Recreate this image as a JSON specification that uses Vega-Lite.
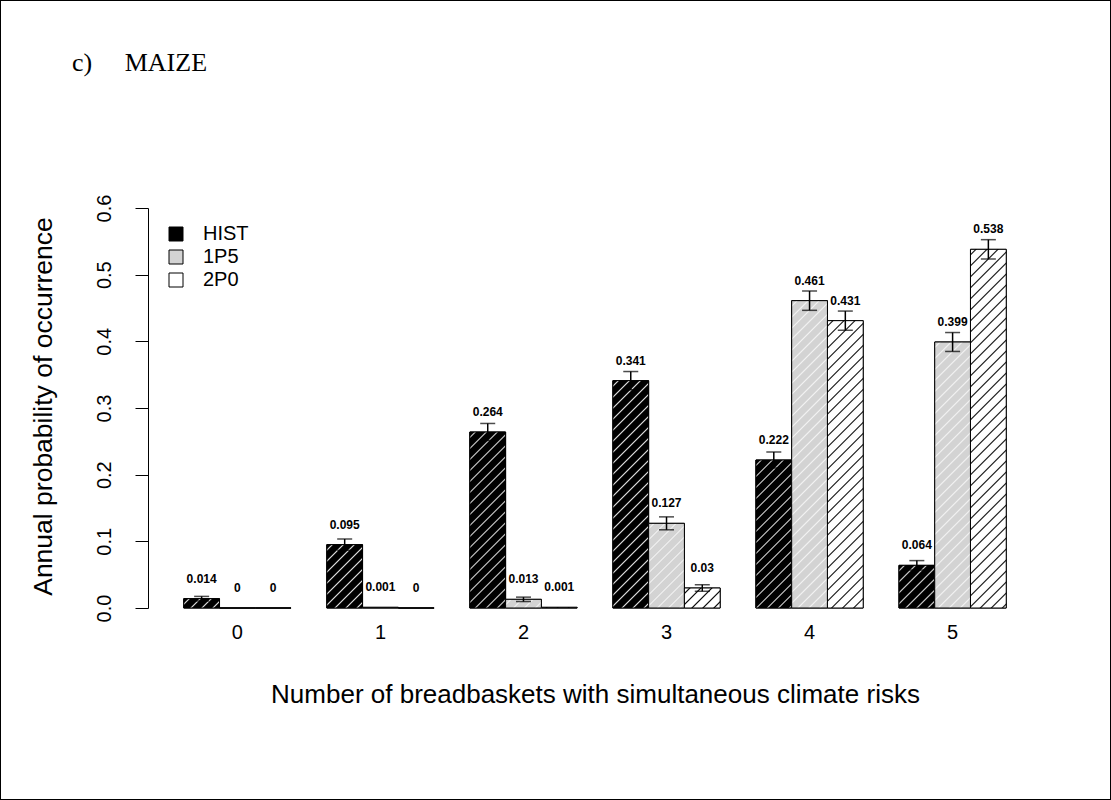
{
  "$schema": "https://vega.github.io/schema/vega-lite/v6.json",
  "width": 1111,
  "height": 800,
  "autosize": {"type": "none"},
  "padding": 0,
  "background": "white",
  "title": {
    "text": "c)\u00a0\u00a0\u00a0\u00a0\u00a0MAIZE",
    "font": "Liberation Serif",
    "fontSize": 26,
    "fontWeight": "normal",
    "color": "black",
    "anchor": "start",
    "frame": "group",
    "orient": "top",
    "baseline": "alphabetic",
    "offset": -97,
    "dx": 72
  },
  "params": [
    {
      "name": "hatchHist",
      "value": [
        {"offset":0.0091,"color":"#000"},{"offset":0.0125,"color":"#ddd"},{"offset":0.0159,"color":"#000"},
        {"offset":0.0341,"color":"#000"},{"offset":0.0375,"color":"#ddd"},{"offset":0.0409,"color":"#000"},
        {"offset":0.0591,"color":"#000"},{"offset":0.0625,"color":"#ddd"},{"offset":0.0659,"color":"#000"},
        {"offset":0.0841,"color":"#000"},{"offset":0.0875,"color":"#ddd"},{"offset":0.0909,"color":"#000"},
        {"offset":0.1091,"color":"#000"},{"offset":0.1125,"color":"#ddd"},{"offset":0.1159,"color":"#000"},
        {"offset":0.1341,"color":"#000"},{"offset":0.1375,"color":"#ddd"},{"offset":0.1409,"color":"#000"},
        {"offset":0.1591,"color":"#000"},{"offset":0.1625,"color":"#ddd"},{"offset":0.1659,"color":"#000"},
        {"offset":0.1841,"color":"#000"},{"offset":0.1875,"color":"#ddd"},{"offset":0.1909,"color":"#000"},
        {"offset":0.2091,"color":"#000"},{"offset":0.2125,"color":"#ddd"},{"offset":0.2159,"color":"#000"},
        {"offset":0.2341,"color":"#000"},{"offset":0.2375,"color":"#ddd"},{"offset":0.2409,"color":"#000"},
        {"offset":0.2591,"color":"#000"},{"offset":0.2625,"color":"#ddd"},{"offset":0.2659,"color":"#000"},
        {"offset":0.2841,"color":"#000"},{"offset":0.2875,"color":"#ddd"},{"offset":0.2909,"color":"#000"},
        {"offset":0.3091,"color":"#000"},{"offset":0.3125,"color":"#ddd"},{"offset":0.3159,"color":"#000"},
        {"offset":0.3341,"color":"#000"},{"offset":0.3375,"color":"#ddd"},{"offset":0.3409,"color":"#000"},
        {"offset":0.3591,"color":"#000"},{"offset":0.3625,"color":"#ddd"},{"offset":0.3659,"color":"#000"},
        {"offset":0.3841,"color":"#000"},{"offset":0.3875,"color":"#ddd"},{"offset":0.3909,"color":"#000"},
        {"offset":0.4091,"color":"#000"},{"offset":0.4125,"color":"#ddd"},{"offset":0.4159,"color":"#000"},
        {"offset":0.4341,"color":"#000"},{"offset":0.4375,"color":"#ddd"},{"offset":0.4409,"color":"#000"},
        {"offset":0.4591,"color":"#000"},{"offset":0.4625,"color":"#ddd"},{"offset":0.4659,"color":"#000"},
        {"offset":0.4841,"color":"#000"},{"offset":0.4875,"color":"#ddd"},{"offset":0.4909,"color":"#000"},
        {"offset":0.5091,"color":"#000"},{"offset":0.5125,"color":"#ddd"},{"offset":0.5159,"color":"#000"},
        {"offset":0.5341,"color":"#000"},{"offset":0.5375,"color":"#ddd"},{"offset":0.5409,"color":"#000"},
        {"offset":0.5591,"color":"#000"},{"offset":0.5625,"color":"#ddd"},{"offset":0.5659,"color":"#000"},
        {"offset":0.5841,"color":"#000"},{"offset":0.5875,"color":"#ddd"},{"offset":0.5909,"color":"#000"},
        {"offset":0.6091,"color":"#000"},{"offset":0.6125,"color":"#ddd"},{"offset":0.6159,"color":"#000"},
        {"offset":0.6341,"color":"#000"},{"offset":0.6375,"color":"#ddd"},{"offset":0.6409,"color":"#000"},
        {"offset":0.6591,"color":"#000"},{"offset":0.6625,"color":"#ddd"},{"offset":0.6659,"color":"#000"},
        {"offset":0.6841,"color":"#000"},{"offset":0.6875,"color":"#ddd"},{"offset":0.6909,"color":"#000"},
        {"offset":0.7091,"color":"#000"},{"offset":0.7125,"color":"#ddd"},{"offset":0.7159,"color":"#000"},
        {"offset":0.7341,"color":"#000"},{"offset":0.7375,"color":"#ddd"},{"offset":0.7409,"color":"#000"},
        {"offset":0.7591,"color":"#000"},{"offset":0.7625,"color":"#ddd"},{"offset":0.7659,"color":"#000"},
        {"offset":0.7841,"color":"#000"},{"offset":0.7875,"color":"#ddd"},{"offset":0.7909,"color":"#000"},
        {"offset":0.8091,"color":"#000"},{"offset":0.8125,"color":"#ddd"},{"offset":0.8159,"color":"#000"},
        {"offset":0.8341,"color":"#000"},{"offset":0.8375,"color":"#ddd"},{"offset":0.8409,"color":"#000"},
        {"offset":0.8591,"color":"#000"},{"offset":0.8625,"color":"#ddd"},{"offset":0.8659,"color":"#000"},
        {"offset":0.8841,"color":"#000"},{"offset":0.8875,"color":"#ddd"},{"offset":0.8909,"color":"#000"},
        {"offset":0.9091,"color":"#000"},{"offset":0.9125,"color":"#ddd"},{"offset":0.9159,"color":"#000"},
        {"offset":0.9341,"color":"#000"},{"offset":0.9375,"color":"#ddd"},{"offset":0.9409,"color":"#000"},
        {"offset":0.9591,"color":"#000"},{"offset":0.9625,"color":"#ddd"},{"offset":0.9659,"color":"#000"},
        {"offset":0.9841,"color":"#000"},{"offset":0.9875,"color":"#ddd"},{"offset":0.9909,"color":"#000"}
      ]
    },
    {
      "name": "hatch1p5",
      "value": [
        {"offset":0.0091,"color":"#d3d3d3"},{"offset":0.0125,"color":"#f4f4f4"},{"offset":0.0159,"color":"#d3d3d3"},
        {"offset":0.0341,"color":"#d3d3d3"},{"offset":0.0375,"color":"#f4f4f4"},{"offset":0.0409,"color":"#d3d3d3"},
        {"offset":0.0591,"color":"#d3d3d3"},{"offset":0.0625,"color":"#f4f4f4"},{"offset":0.0659,"color":"#d3d3d3"},
        {"offset":0.0841,"color":"#d3d3d3"},{"offset":0.0875,"color":"#f4f4f4"},{"offset":0.0909,"color":"#d3d3d3"},
        {"offset":0.1091,"color":"#d3d3d3"},{"offset":0.1125,"color":"#f4f4f4"},{"offset":0.1159,"color":"#d3d3d3"},
        {"offset":0.1341,"color":"#d3d3d3"},{"offset":0.1375,"color":"#f4f4f4"},{"offset":0.1409,"color":"#d3d3d3"},
        {"offset":0.1591,"color":"#d3d3d3"},{"offset":0.1625,"color":"#f4f4f4"},{"offset":0.1659,"color":"#d3d3d3"},
        {"offset":0.1841,"color":"#d3d3d3"},{"offset":0.1875,"color":"#f4f4f4"},{"offset":0.1909,"color":"#d3d3d3"},
        {"offset":0.2091,"color":"#d3d3d3"},{"offset":0.2125,"color":"#f4f4f4"},{"offset":0.2159,"color":"#d3d3d3"},
        {"offset":0.2341,"color":"#d3d3d3"},{"offset":0.2375,"color":"#f4f4f4"},{"offset":0.2409,"color":"#d3d3d3"},
        {"offset":0.2591,"color":"#d3d3d3"},{"offset":0.2625,"color":"#f4f4f4"},{"offset":0.2659,"color":"#d3d3d3"},
        {"offset":0.2841,"color":"#d3d3d3"},{"offset":0.2875,"color":"#f4f4f4"},{"offset":0.2909,"color":"#d3d3d3"},
        {"offset":0.3091,"color":"#d3d3d3"},{"offset":0.3125,"color":"#f4f4f4"},{"offset":0.3159,"color":"#d3d3d3"},
        {"offset":0.3341,"color":"#d3d3d3"},{"offset":0.3375,"color":"#f4f4f4"},{"offset":0.3409,"color":"#d3d3d3"},
        {"offset":0.3591,"color":"#d3d3d3"},{"offset":0.3625,"color":"#f4f4f4"},{"offset":0.3659,"color":"#d3d3d3"},
        {"offset":0.3841,"color":"#d3d3d3"},{"offset":0.3875,"color":"#f4f4f4"},{"offset":0.3909,"color":"#d3d3d3"},
        {"offset":0.4091,"color":"#d3d3d3"},{"offset":0.4125,"color":"#f4f4f4"},{"offset":0.4159,"color":"#d3d3d3"},
        {"offset":0.4341,"color":"#d3d3d3"},{"offset":0.4375,"color":"#f4f4f4"},{"offset":0.4409,"color":"#d3d3d3"},
        {"offset":0.4591,"color":"#d3d3d3"},{"offset":0.4625,"color":"#f4f4f4"},{"offset":0.4659,"color":"#d3d3d3"},
        {"offset":0.4841,"color":"#d3d3d3"},{"offset":0.4875,"color":"#f4f4f4"},{"offset":0.4909,"color":"#d3d3d3"},
        {"offset":0.5091,"color":"#d3d3d3"},{"offset":0.5125,"color":"#f4f4f4"},{"offset":0.5159,"color":"#d3d3d3"},
        {"offset":0.5341,"color":"#d3d3d3"},{"offset":0.5375,"color":"#f4f4f4"},{"offset":0.5409,"color":"#d3d3d3"},
        {"offset":0.5591,"color":"#d3d3d3"},{"offset":0.5625,"color":"#f4f4f4"},{"offset":0.5659,"color":"#d3d3d3"},
        {"offset":0.5841,"color":"#d3d3d3"},{"offset":0.5875,"color":"#f4f4f4"},{"offset":0.5909,"color":"#d3d3d3"},
        {"offset":0.6091,"color":"#d3d3d3"},{"offset":0.6125,"color":"#f4f4f4"},{"offset":0.6159,"color":"#d3d3d3"},
        {"offset":0.6341,"color":"#d3d3d3"},{"offset":0.6375,"color":"#f4f4f4"},{"offset":0.6409,"color":"#d3d3d3"},
        {"offset":0.6591,"color":"#d3d3d3"},{"offset":0.6625,"color":"#f4f4f4"},{"offset":0.6659,"color":"#d3d3d3"},
        {"offset":0.6841,"color":"#d3d3d3"},{"offset":0.6875,"color":"#f4f4f4"},{"offset":0.6909,"color":"#d3d3d3"},
        {"offset":0.7091,"color":"#d3d3d3"},{"offset":0.7125,"color":"#f4f4f4"},{"offset":0.7159,"color":"#d3d3d3"},
        {"offset":0.7341,"color":"#d3d3d3"},{"offset":0.7375,"color":"#f4f4f4"},{"offset":0.7409,"color":"#d3d3d3"},
        {"offset":0.7591,"color":"#d3d3d3"},{"offset":0.7625,"color":"#f4f4f4"},{"offset":0.7659,"color":"#d3d3d3"},
        {"offset":0.7841,"color":"#d3d3d3"},{"offset":0.7875,"color":"#f4f4f4"},{"offset":0.7909,"color":"#d3d3d3"},
        {"offset":0.8091,"color":"#d3d3d3"},{"offset":0.8125,"color":"#f4f4f4"},{"offset":0.8159,"color":"#d3d3d3"},
        {"offset":0.8341,"color":"#d3d3d3"},{"offset":0.8375,"color":"#f4f4f4"},{"offset":0.8409,"color":"#d3d3d3"},
        {"offset":0.8591,"color":"#d3d3d3"},{"offset":0.8625,"color":"#f4f4f4"},{"offset":0.8659,"color":"#d3d3d3"},
        {"offset":0.8841,"color":"#d3d3d3"},{"offset":0.8875,"color":"#f4f4f4"},{"offset":0.8909,"color":"#d3d3d3"},
        {"offset":0.9091,"color":"#d3d3d3"},{"offset":0.9125,"color":"#f4f4f4"},{"offset":0.9159,"color":"#d3d3d3"},
        {"offset":0.9341,"color":"#d3d3d3"},{"offset":0.9375,"color":"#f4f4f4"},{"offset":0.9409,"color":"#d3d3d3"},
        {"offset":0.9591,"color":"#d3d3d3"},{"offset":0.9625,"color":"#f4f4f4"},{"offset":0.9659,"color":"#d3d3d3"},
        {"offset":0.9841,"color":"#d3d3d3"},{"offset":0.9875,"color":"#f4f4f4"},{"offset":0.9909,"color":"#d3d3d3"}
      ]
    },
    {
      "name": "hatch2p0",
      "value": [
        {"offset":0.0091,"color":"#fff"},{"offset":0.0125,"color":"#000"},{"offset":0.0159,"color":"#fff"},
        {"offset":0.0341,"color":"#fff"},{"offset":0.0375,"color":"#000"},{"offset":0.0409,"color":"#fff"},
        {"offset":0.0591,"color":"#fff"},{"offset":0.0625,"color":"#000"},{"offset":0.0659,"color":"#fff"},
        {"offset":0.0841,"color":"#fff"},{"offset":0.0875,"color":"#000"},{"offset":0.0909,"color":"#fff"},
        {"offset":0.1091,"color":"#fff"},{"offset":0.1125,"color":"#000"},{"offset":0.1159,"color":"#fff"},
        {"offset":0.1341,"color":"#fff"},{"offset":0.1375,"color":"#000"},{"offset":0.1409,"color":"#fff"},
        {"offset":0.1591,"color":"#fff"},{"offset":0.1625,"color":"#000"},{"offset":0.1659,"color":"#fff"},
        {"offset":0.1841,"color":"#fff"},{"offset":0.1875,"color":"#000"},{"offset":0.1909,"color":"#fff"},
        {"offset":0.2091,"color":"#fff"},{"offset":0.2125,"color":"#000"},{"offset":0.2159,"color":"#fff"},
        {"offset":0.2341,"color":"#fff"},{"offset":0.2375,"color":"#000"},{"offset":0.2409,"color":"#fff"},
        {"offset":0.2591,"color":"#fff"},{"offset":0.2625,"color":"#000"},{"offset":0.2659,"color":"#fff"},
        {"offset":0.2841,"color":"#fff"},{"offset":0.2875,"color":"#000"},{"offset":0.2909,"color":"#fff"},
        {"offset":0.3091,"color":"#fff"},{"offset":0.3125,"color":"#000"},{"offset":0.3159,"color":"#fff"},
        {"offset":0.3341,"color":"#fff"},{"offset":0.3375,"color":"#000"},{"offset":0.3409,"color":"#fff"},
        {"offset":0.3591,"color":"#fff"},{"offset":0.3625,"color":"#000"},{"offset":0.3659,"color":"#fff"},
        {"offset":0.3841,"color":"#fff"},{"offset":0.3875,"color":"#000"},{"offset":0.3909,"color":"#fff"},
        {"offset":0.4091,"color":"#fff"},{"offset":0.4125,"color":"#000"},{"offset":0.4159,"color":"#fff"},
        {"offset":0.4341,"color":"#fff"},{"offset":0.4375,"color":"#000"},{"offset":0.4409,"color":"#fff"},
        {"offset":0.4591,"color":"#fff"},{"offset":0.4625,"color":"#000"},{"offset":0.4659,"color":"#fff"},
        {"offset":0.4841,"color":"#fff"},{"offset":0.4875,"color":"#000"},{"offset":0.4909,"color":"#fff"},
        {"offset":0.5091,"color":"#fff"},{"offset":0.5125,"color":"#000"},{"offset":0.5159,"color":"#fff"},
        {"offset":0.5341,"color":"#fff"},{"offset":0.5375,"color":"#000"},{"offset":0.5409,"color":"#fff"},
        {"offset":0.5591,"color":"#fff"},{"offset":0.5625,"color":"#000"},{"offset":0.5659,"color":"#fff"},
        {"offset":0.5841,"color":"#fff"},{"offset":0.5875,"color":"#000"},{"offset":0.5909,"color":"#fff"},
        {"offset":0.6091,"color":"#fff"},{"offset":0.6125,"color":"#000"},{"offset":0.6159,"color":"#fff"},
        {"offset":0.6341,"color":"#fff"},{"offset":0.6375,"color":"#000"},{"offset":0.6409,"color":"#fff"},
        {"offset":0.6591,"color":"#fff"},{"offset":0.6625,"color":"#000"},{"offset":0.6659,"color":"#fff"},
        {"offset":0.6841,"color":"#fff"},{"offset":0.6875,"color":"#000"},{"offset":0.6909,"color":"#fff"},
        {"offset":0.7091,"color":"#fff"},{"offset":0.7125,"color":"#000"},{"offset":0.7159,"color":"#fff"},
        {"offset":0.7341,"color":"#fff"},{"offset":0.7375,"color":"#000"},{"offset":0.7409,"color":"#fff"},
        {"offset":0.7591,"color":"#fff"},{"offset":0.7625,"color":"#000"},{"offset":0.7659,"color":"#fff"},
        {"offset":0.7841,"color":"#fff"},{"offset":0.7875,"color":"#000"},{"offset":0.7909,"color":"#fff"},
        {"offset":0.8091,"color":"#fff"},{"offset":0.8125,"color":"#000"},{"offset":0.8159,"color":"#fff"},
        {"offset":0.8341,"color":"#fff"},{"offset":0.8375,"color":"#000"},{"offset":0.8409,"color":"#fff"},
        {"offset":0.8591,"color":"#fff"},{"offset":0.8625,"color":"#000"},{"offset":0.8659,"color":"#fff"},
        {"offset":0.8841,"color":"#fff"},{"offset":0.8875,"color":"#000"},{"offset":0.8909,"color":"#fff"},
        {"offset":0.9091,"color":"#fff"},{"offset":0.9125,"color":"#000"},{"offset":0.9159,"color":"#fff"},
        {"offset":0.9341,"color":"#fff"},{"offset":0.9375,"color":"#000"},{"offset":0.9409,"color":"#fff"},
        {"offset":0.9591,"color":"#fff"},{"offset":0.9625,"color":"#000"},{"offset":0.9659,"color":"#fff"},
        {"offset":0.9841,"color":"#fff"},{"offset":0.9875,"color":"#000"},{"offset":0.9909,"color":"#fff"}
      ]
    }
  ],
  "config": {
    "view": {"stroke": "black", "strokeWidth": 2},
    "font": "Liberation Sans",
    "axis": {"labelColor": "black", "titleColor": "black", "domainColor": "black", "tickColor": "black"}
  },
  "data": {
    "values": [
      {"n": "0", "scenario": "HIST", "p": 0.014, "lo": 0.0106, "hi": 0.0174},
      {"n": "0", "scenario": "1P5", "p": 0, "lo": 0, "hi": 0},
      {"n": "0", "scenario": "2P0", "p": 0, "lo": 0, "hi": 0},
      {"n": "1", "scenario": "HIST", "p": 0.095, "lo": 0.0865, "hi": 0.1035},
      {"n": "1", "scenario": "1P5", "p": 0.001, "lo": 0.001, "hi": 0.001},
      {"n": "1", "scenario": "2P0", "p": 0, "lo": 0, "hi": 0},
      {"n": "2", "scenario": "HIST", "p": 0.264, "lo": 0.2512, "hi": 0.2768},
      {"n": "2", "scenario": "1P5", "p": 0.013, "lo": 0.0097, "hi": 0.0163},
      {"n": "2", "scenario": "2P0", "p": 0.001, "lo": 0.001, "hi": 0.001},
      {"n": "3", "scenario": "HIST", "p": 0.341, "lo": 0.3273, "hi": 0.3547},
      {"n": "3", "scenario": "1P5", "p": 0.127, "lo": 0.1173, "hi": 0.1367},
      {"n": "3", "scenario": "2P0", "p": 0.03, "lo": 0.0251, "hi": 0.0349},
      {"n": "4", "scenario": "HIST", "p": 0.222, "lo": 0.21, "hi": 0.234},
      {"n": "4", "scenario": "1P5", "p": 0.461, "lo": 0.4465, "hi": 0.4755},
      {"n": "4", "scenario": "2P0", "p": 0.431, "lo": 0.4166, "hi": 0.4454},
      {"n": "5", "scenario": "HIST", "p": 0.064, "lo": 0.0569, "hi": 0.0711},
      {"n": "5", "scenario": "1P5", "p": 0.399, "lo": 0.3848, "hi": 0.4132},
      {"n": "5", "scenario": "2P0", "p": 0.538, "lo": 0.5235, "hi": 0.5525}
    ]
  },
  "encoding": {
    "x": {
      "field": "n",
      "type": "nominal",
      "scale": {"range": [148, 1042], "paddingInner": 0.25, "paddingOuter": 0.25},
      "axis": {
        "title": "Number of breadbaskets with simultaneous climate risks",
        "orient": "bottom",
        "offset": -192,
        "domain": false,
        "ticks": false,
        "labelAngle": 0,
        "labelFontSize": 20,
        "labelPadding": 14,
        "titleFontSize": 26,
        "titleFontWeight": "normal",
        "titleBaseline": "alphabetic",
        "titleY": 94
      }
    },
    "xOffset": {"field": "scenario", "type": "nominal", "scale": {"domain": ["HIST", "1P5", "2P0"]}}
  },
  "layer": [
    {
      "mark": {"type": "bar", "stroke": "black", "strokeWidth": 1},
      "encoding": {
        "y": {
          "field": "p",
          "type": "quantitative",
          "title": "Annual probability of occurrence",
          "scale": {"domain": [0, 0.6], "range": [608, 208], "nice": false},
          "axis": {
            "offset": -148,
            "grid": false,
            "tickCount": 6,
            "format": ".1f",
            "tickSize": 13,
            "labelAngle": -90,
            "labelAlign": "center",
            "labelBaseline": "bottom",
            "labelFontSize": 20,
            "labelPadding": 21,
            "titleFontSize": 26.5,
            "titleFontWeight": "normal",
            "titleBaseline": "alphabetic",
            "titleX": -97,
            "titleY": 406
          }
        },
        "fill": {
          "field": "scenario",
          "type": "nominal",
          "scale": {"domain": ["HIST", "1P5", "2P0"], "range": ["#000000", "#d3d3d3", "#ffffff"]},
          "legend": {
            "orient": "none",
            "legendX": 166,
            "legendY": 224,
            "title": null,
            "padding": 0,
            "symbolType": "square",
            "symbolSize": 196,
            "symbolStrokeColor": "black",
            "symbolStrokeWidth": 1,
            "labelFontSize": 20,
            "labelColor": "black",
            "labelOffset": 17,
            "rowPadding": 3,
            "encode": {
              "symbols": {
                "update": {
                  "stroke": {"value": "black"},
                  "strokeWidth": {"value": 1},
                  "opacity": {"value": 1},
                  "fill": {"signal": "datum.value === '2P0' ? {gradient: 'linear', x1: 0, y1: 0, x2: 1, y2: 1, stops: [{offset: 0.28, color: '#fff'}, {offset: 0.35, color: '#000'}, {offset: 0.42, color: '#fff'}, {offset: 0.61, color: '#fff'}, {offset: 0.68, color: '#000'}, {offset: 0.75, color: '#fff'}]} : datum.value === '1P5' ? '#d3d3d3' : '#000000'"}
                }
              }
            }
          }
        }
      }
    },
    {
      "mark": {
        "type": "bar",
        "stroke": "black",
        "strokeWidth": 1,
        "fill": {"expr": "{gradient: 'linear', x1: 0, y1: 0, x2: bandwidth('xOffset') * 440 / (pow(bandwidth('xOffset'), 2) + pow(scale('y', 0) - scale('y', datum.p), 2)), y2: (scale('y', 0) - scale('y', datum.p)) * 440 / (pow(bandwidth('xOffset'), 2) + pow(scale('y', 0) - scale('y', datum.p), 2)), stops: datum.scenario === 'HIST' ? hatchHist : datum.scenario === '1P5' ? hatch1p5 : hatch2p0}"}
      },
      "encoding": {
        "y": {"field": "p", "type": "quantitative", "title": "Annual probability of occurrence"}
      }
    },
    {
      "transform": [{"filter": "datum.hi > datum.lo"}],
      "mark": {"type": "rule", "strokeWidth": 1.5, "color": "black"},
      "encoding": {
        "y": {"field": "lo", "type": "quantitative", "title": "Annual probability of occurrence"},
        "y2": {"field": "hi"}
      }
    },
    {
      "transform": [{"filter": "datum.hi > datum.lo"}],
      "mark": {"type": "tick", "size": 15, "thickness": 1.5, "color": "black"},
      "encoding": {
        "y": {"field": "hi", "type": "quantitative", "title": "Annual probability of occurrence"}
      }
    },
    {
      "transform": [{"filter": "datum.hi > datum.lo"}],
      "mark": {"type": "tick", "size": 15, "thickness": 1.5, "color": "black"},
      "encoding": {
        "y": {"field": "lo", "type": "quantitative", "title": "Annual probability of occurrence"}
      }
    },
    {
      "mark": {"type": "text", "fontSize": 12, "fontWeight": "bold", "baseline": "alphabetic", "dy": -16, "color": "black"},
      "encoding": {
        "y": {"field": "p", "type": "quantitative", "title": "Annual probability of occurrence"},
        "text": {"field": "p", "type": "quantitative", "format": ".3~f"}
      }
    }
  ]
}
